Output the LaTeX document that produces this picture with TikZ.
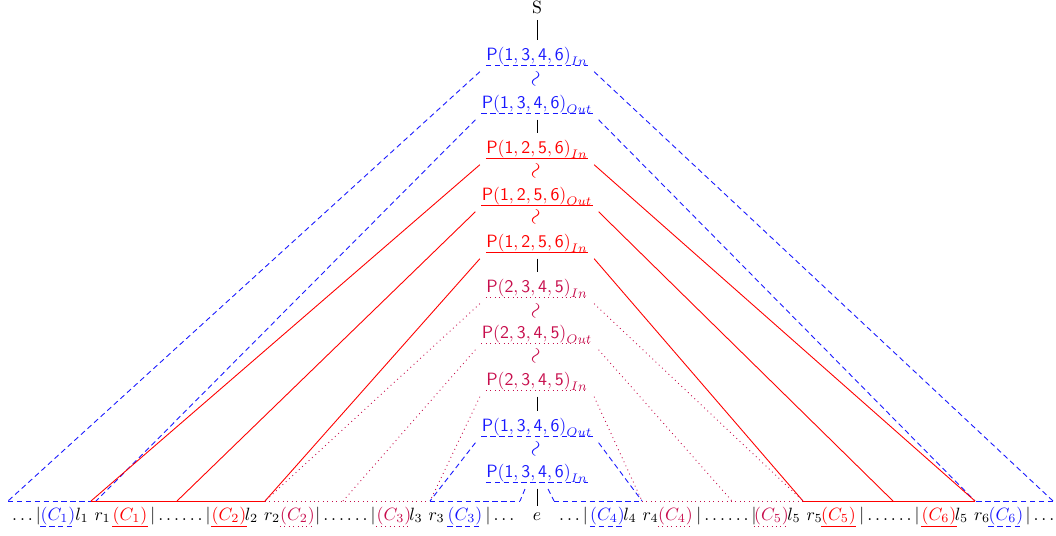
\documentclass[tikz,border=0pt]{standalone}
\usetikzlibrary{calc}
\definecolor{pblue}{rgb}{0.1,0.1,1}
\definecolor{pred}{rgb}{1,0,0}
\definecolor{ppur}{rgb}{0.78,0.05,0.3}
\newcommand{\mywave}{\rotatebox{70}{$\sim$}}
\begin{document}
\begin{tikzpicture}[x=0.5618pt,y=-0.5618pt,
  line width=0.5pt,
  pn/.style={anchor=base, inner sep=3.33pt},
  wrn/.style={inner sep=0pt, font=\large},
  bt/.style={anchor=base, inner sep=0pt},
  bdash/.style={draw=pblue, dash pattern=on 3pt off 2pt},
  rsol/.style={draw=pred},
  pdot/.style={draw=ppur, dotted},
  vline/.style={draw=black}]
\useasboundingbox (0,0) rectangle (1056,535);

% central chain
\node[pn] (S) at (537,13) {S};
\node[pn,text=pblue] (I1) at (537,60) {$\mathsf{P(1,3,4,6)}_{In}$};
\node[wrn,text=pblue] (w1) at (537,79) {\mywave};
\node[pn,text=pblue] (O1) at (537,108) {$\mathsf{P(1,3,4,6)}_{Out}$};
\node[pn,text=pred] (I2) at (537,153) {$\mathsf{P(1,2,5,6)}_{In}$};
\node[wrn,text=pred] (w2) at (537,171) {\mywave};
\node[pn,text=pred] (O2) at (537,200) {$\mathsf{P(1,2,5,6)}_{Out}$};
\node[wrn,text=pred] (w3) at (537,217) {\mywave};
\node[pn,text=pred] (I3) at (537,247) {$\mathsf{P(1,2,5,6)}_{In}$};
\node[pn,text=ppur] (I4) at (537,292) {$\mathsf{P(2,3,4,5)}_{In}$};
\node[wrn,text=ppur] (w4) at (537,311) {\mywave};
\node[pn,text=ppur] (O4) at (537,338) {$\mathsf{P(2,3,4,5)}_{Out}$};
\node[wrn,text=ppur] (w5) at (537,356) {\mywave};
\node[pn,text=ppur] (I5) at (537,385) {$\mathsf{P(2,3,4,5)}_{In}$};
\node[pn,text=pblue] (O6) at (537,431) {$\mathsf{P(1,3,4,6)}_{Out}$};
\node[wrn,text=pblue] (w6) at (537,449) {\mywave};
\node[pn,text=pblue] (I6) at (537,477) {$\mathsf{P(1,3,4,6)}_{In}$};
\node[pn] (e) at (537,520) {$e$};

% underlines of central nodes
\draw[bdash] ($(I1.base west)+(6,5.5)$) -- ($(I1.base east)+(-6,5.5)$);
\draw[bdash] ($(O1.base west)+(6,5.5)$) -- ($(O1.base east)+(-6,5.5)$);
\draw[rsol] ($(I2.base west)+(6,5.5)$) -- ($(I2.base east)+(-6,5.5)$);
\draw[rsol] ($(O2.base west)+(6,5.5)$) -- ($(O2.base east)+(-6,5.5)$);
\draw[rsol] ($(I3.base west)+(6,5.5)$) -- ($(I3.base east)+(-6,5.5)$);
\draw[pdot] ($(I4.base west)+(6,5.5)$) -- ($(I4.base east)+(-6,5.5)$);
\draw[pdot] ($(O4.base west)+(6,5.5)$) -- ($(O4.base east)+(-6,5.5)$);
\draw[pdot] ($(I5.base west)+(6,5.5)$) -- ($(I5.base east)+(-6,5.5)$);
\draw[bdash] ($(O6.base west)+(6,5.5)$) -- ($(O6.base east)+(-6,5.5)$);
\draw[bdash] ($(I6.base west)+(6,5.5)$) -- ($(I6.base east)+(-6,5.5)$);

% vertical connectors
\draw[vline] (S) -- (I1);
\draw[vline] (O1) -- (I2);
\draw[vline] (I3) -- (I4);
\draw[vline] (I5) -- (O6);
\draw[vline] (I6) -- (e);

% baseline points
\coordinate (b0) at (8,501);
\coordinate (b1) at (91,501);
\coordinate (b1x) at (96,501);
\coordinate (b2) at (177,501);
\coordinate (b3) at (265,501);
\coordinate (b4) at (343,501);
\coordinate (b5) at (430,501);
\coordinate (b6) at (520,501);
\coordinate (b7) at (554,501);
\coordinate (b8) at (642,501);
\coordinate (b9) at (732,501);
\coordinate (b10) at (803,501);
\coordinate (b11) at (893,501);
\coordinate (b12) at (975,501);
\coordinate (b13) at (1053,501);
\coordinate (c6l) at (525,489);
\coordinate (c6r) at (548,489);

% blue outer
\draw[bdash] (I1.south west) -- (b0);
\draw[bdash] (b0) -- (b1);
\draw[bdash] (I1.south east) -- (b13);
\draw[bdash] (b13) -- (b12);
\draw[bdash] (O1.south west) -- (b1x);
\draw[bdash] (O1.south east) -- (b12);

% red
\draw[rsol] (I2.south west) -- (b1);
\draw[rsol] (O2.south west) -- (b2);
\draw[rsol] (I3.south west) -- (b3);
\draw[rsol] (b1) -- (b3);
\draw[rsol] (I2.south east) -- (b12);
\draw[rsol] (O2.south east) -- (b11);
\draw[rsol] (I3.south east) -- (b10);
\draw[rsol] (b10) -- (b12);

% purple dotted
\draw[pdot] (I4.south west) -- (b3);
\draw[pdot] (O4.south west) -- (b4);
\draw[pdot] (I5.south west) -- (b5);
\draw[pdot] (b3) -- (b5);
\draw[pdot] (I4.south east) -- (b10);
\draw[pdot] (O4.south east) -- (b9);
\draw[pdot] (I5.south east) -- (b8);
\draw[pdot] (b8) -- (b10);

% blue inner
\draw[bdash] (O6.south west) -- (b5);
\draw[bdash] (O6.south east) -- (b8);
\draw[bdash] (b5) -- (b6);
\draw[bdash] (b7) -- (b8);
\draw[bdash] (c6l) -- (b6);
\draw[bdash] (c6r) -- (b7);

% bottom row
\node[bt] (d0) at (26.5,520) {$\dots|$};
\node[bt,text=pblue] (C1b) at (58,520) {$(C_1)$};
\node[bt] (lr1) at (93,520) {$l_1\ r_1$};
\node[bt,text=pred] (C1r) at (130,520) {$(C_1)$};
\node[bt] (bar1) at (180.5,520) {$|\dots\dots|$};
\node[bt,text=pred] (C2r) at (229,520) {$(C_2)$};
\node[bt] (lr2) at (262.5,520) {$l_2\ r_2$};
\node[bt,text=ppur] (C2p) at (297.5,520) {$(C_2)$};
\node[bt] (bar2) at (345.5,520) {$|\dots\dots|$};
\node[bt,text=ppur] (C3p) at (394,520) {$(C_3)$};
\node[bt] (lr3) at (427,520) {$l_3\ r_3$};
\node[bt,text=pblue] (C3b) at (465,520) {$(C_3)$};
\node[bt] (d1) at (500,520) {$|\dots$};
\node[bt] (d2) at (573.5,520) {$\dots|$};
\node[bt,text=pblue] (C4b) at (607.5,520) {$(C_4)$};
\node[bt] (lr4) at (641,520) {$l_4\ r_4$};
\node[bt,text=ppur] (C4p) at (675.5,520) {$(C_4)$};
\node[bt] (bar4) at (726.5,520) {$|\dots\dots|$};
\node[bt,text=ppur] (C5p) at (771.5,520) {$(C_5)$};
\node[bt] (lr5) at (805,520) {$l_5\ r_5$};
\node[bt,text=pred] (C5r) at (838.5,520) {$(C_5)$};
\node[bt] (bar5) at (889.5,520) {$|\dots\dots|$};
\node[bt,text=pred] (C6r) at (939,520) {$(C_6)$};
\node[bt] (lr6) at (972.5,520) {$l_5\ r_6$};
\node[bt,text=pblue] (C6b) at (1006,520) {$(C_6)$};
\node[bt] (d3) at (1040,520) {$|\dots$};

% bottom underlines
\draw[bdash] ($(C1b.base west)+(0,6)$) -- ($(C1b.base east)+(0,6)$);
\draw[rsol] ($(C1r.base west)+(0,6)$) -- ($(C1r.base east)+(0,6)$);
\draw[rsol] ($(C2r.base west)+(0,6)$) -- ($(C2r.base east)+(0,6)$);
\draw[pdot] ($(C2p.base west)+(0,6)$) -- ($(C2p.base east)+(0,6)$);
\draw[pdot] ($(C3p.base west)+(0,6)$) -- ($(C3p.base east)+(0,6)$);
\draw[bdash] ($(C3b.base west)+(0,6)$) -- ($(C3b.base east)+(0,6)$);
\draw[bdash] ($(C4b.base west)+(0,6)$) -- ($(C4b.base east)+(0,6)$);
\draw[pdot] ($(C4p.base west)+(0,6)$) -- ($(C4p.base east)+(0,6)$);
\draw[pdot] ($(C5p.base west)+(0,6)$) -- ($(C5p.base east)+(0,6)$);
\draw[rsol] ($(C5r.base west)+(0,6)$) -- ($(C5r.base east)+(0,6)$);
\draw[rsol] ($(C6r.base west)+(0,6)$) -- ($(C6r.base east)+(0,6)$);
\draw[bdash] ($(C6b.base west)+(0,6)$) -- ($(C6b.base east)+(0,6)$);
\end{tikzpicture}
\end{document}
